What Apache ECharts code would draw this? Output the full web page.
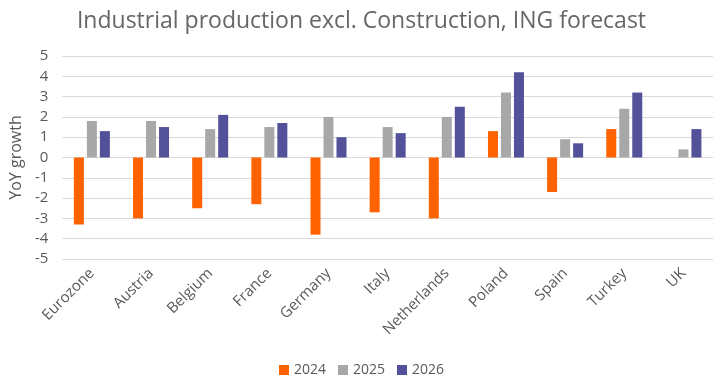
<!DOCTYPE html>
<html><head><meta charset="utf-8">
<script src="https://cdn.jsdelivr.net/npm/echarts@6/dist/echarts.min.js"></script>
<style>html,body{margin:0;padding:0;background:#fff}#c{width:723px;height:390px}</style>
</head><body><div id="c"></div>
<script>
const categories = ['Eurozone','Austria','Belgium','France','Germany','Italy','Netherlands','Poland','Spain','Turkey','UK'];
const y2024 = [-3.3,-3.0,-2.5,-2.3,-3.8,-2.7,-3.0,1.3,-1.7,1.4,null];
const y2025 = [1.8,1.8,1.4,1.5,2.0,1.5,2.0,3.2,0.9,2.4,0.4];
const y2026 = [1.3,1.5,2.1,1.7,1.0,1.2,2.5,4.2,0.7,3.2,1.4];
const seriesNames = ['2024','2025','2026'];
const colors = ['#FF6200','#A8A8A8','#525199'];
const font = 'Open Sans';
const chart = echarts.init(document.getElementById('c'));
const data = [y2024,y2025,y2026];
chart.setOption({
  animation:false,
  title:{text:'Industrial production excl. Construction, ING forecast',left:'center',top:5,
    textStyle:{fontFamily:font,fontSize:23,fontWeight:'normal',color:'#666'}},
  legend:{bottom:8,left:'center',itemWidth:10,itemHeight:10,itemGap:12,icon:'rect',
    textStyle:{fontFamily:font,fontSize:14,color:'#595959'}},
  grid:{left:60,right:10,top:56,bottom:131},
  xAxis:{type:'category',data:categories,
    axisLine:{show:false},axisTick:{show:false},
    axisLabel:{rotate:45,interval:0,margin:12,fontFamily:font,fontSize:15,color:'#595959'}},
  yAxis:{type:'value',min:-5,max:5,interval:1,name:'YoY growth',nameLocation:'middle',nameGap:38,
    nameTextStyle:{fontFamily:font,fontSize:16,color:'#595959'},
    axisLabel:{fontFamily:font,fontSize:15,color:'#595959',margin:14},
    splitLine:{lineStyle:{color:'#D9D9D9'}}},
  series:seriesNames.map((n,i)=>({name:n,type:'bar',data:data[i],barWidth:10,barGap:'30%',
    itemStyle:{color:colors[i]}}))
});
</script></body></html>
